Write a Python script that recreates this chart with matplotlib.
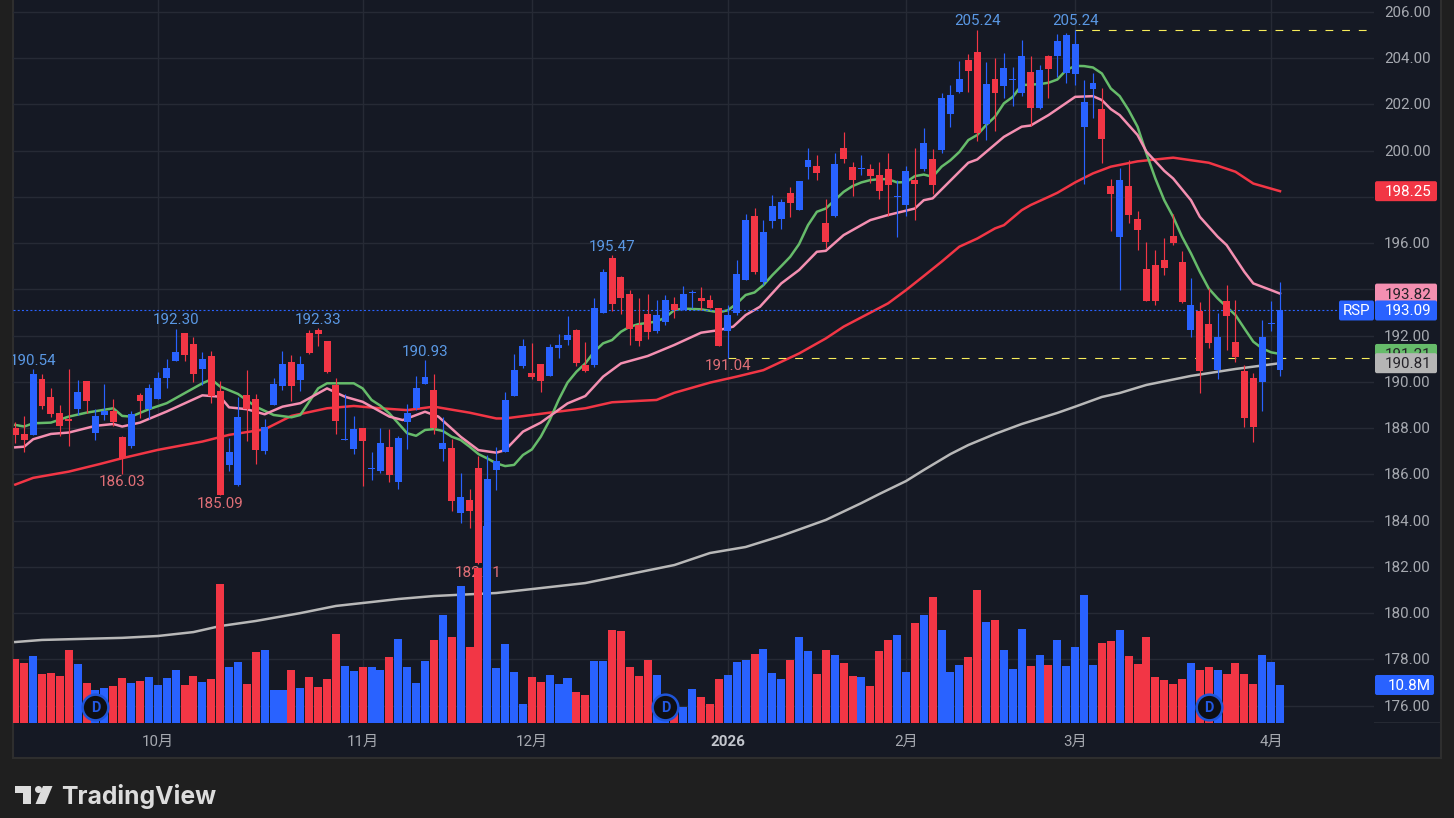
import matplotlib
matplotlib.use("Agg")
import matplotlib.pyplot as plt
from matplotlib.patches import Rectangle, FancyBboxPatch, Polygon, Circle
from matplotlib.transforms import IdentityTransform

plt.rcParams['font.family'] = ['Roboto', 'Noto Sans CJK JP', 'DejaVu Sans']

W, H = 1454, 818
RED = '#f23645'
BLUE = '#2962ff'

opens = [188.01,187.75,187.71,190.13,189.35,188.66,188.40,188.83,190.04,187.79,
         188.57,188.74,187.62,187.23,189.44,188.83,189.26,190.17,190.91,192.12,
         191.64,190.56,191.12,189.61,186.41,185.54,189.44,189.26,187.01,189.00,
         189.83,190.86,190.08,192.12,192.25,191.77,189.87,187.49,187.10,188.00,
         186.22,186.15,187.18,185.67,188.27,188.87,189.91,189.65,187.10,187.14,
         184.33,184.89,186.28,182.50,186.19,186.97,189.39,190.69,190.38,190.77,
         190.26,191.47,191.81,192.24,190.73,190.73,192.98,195.36,194.54,193.80,
         192.46,192.94,192.20,192.59,193.37,193.11,193.83,193.63,193.54,193.18,
         192.20,192.98,194.40,197.17,194.32,196.96,197.04,198.17,197.43,199.29,
         199.33,196.87,197.17,200.11,199.29,199.20,199.21,198.95,199.21,198.00,
         197.65,198.73,199.21,199.64,200.03,201.58,202.54,203.92,204.27,201.15,
         203.10,202.80,203.08,202.49,203.40,201.84,204.09,204.09,203.36,203.31,
         201.02,202.67,201.80,198.47,196.26,198.47,197.04,194.88,195.05,195.27,
         196.31,195.18,192.24,193.06,192.50,190.51,193.50,191.72,190.47,190.17,
         190.00,192.52,190.51]
highs = [188.28,188.53,190.54,190.34,189.74,189.00,190.56,190.08,190.04,188.83,
         189.91,189.26,187.66,188.74,189.52,189.91,190.43,190.99,192.30,192.12,
         191.94,191.30,191.34,190.04,187.58,189.35,190.52,189.48,188.40,190.17,
         191.34,191.17,191.12,192.25,192.33,191.77,190.17,189.48,188.52,188.00,
         186.97,188.00,187.96,187.66,189.04,190.26,190.93,190.34,188.48,187.53,
         186.06,185.37,186.79,186.83,187.18,189.56,191.21,191.86,191.68,190.77,
         191.64,192.07,192.85,192.29,191.73,193.63,194.88,195.47,194.58,193.97,
         193.63,193.80,193.54,193.76,193.67,194.15,193.97,194.10,193.76,193.18,
         193.32,195.27,197.26,197.52,197.00,198.08,197.90,198.43,198.69,200.11,
         199.81,197.91,199.90,200.81,199.51,199.81,199.42,199.51,199.90,198.73,
         199.34,200.11,200.98,200.07,202.49,202.84,203.88,204.18,205.24,203.83,
         204.00,204.22,203.62,204.78,204.09,203.70,204.14,205.04,205.09,205.24,
         203.05,203.36,202.71,198.77,199.25,199.59,197.39,196.05,195.70,196.22,
         197.26,195.66,194.49,193.45,194.06,192.98,194.19,193.54,190.73,190.38,
         192.67,193.50,194.32]
lows = [187.35,186.98,187.71,188.83,188.48,187.66,187.23,188.57,188.66,187.49,
        188.35,188.10,186.03,187.14,188.44,188.40,189.26,189.74,190.91,190.91,
        190.00,189.87,189.09,185.09,186.15,185.50,187.45,186.45,186.88,189.00,
        189.65,189.18,189.61,191.21,191.56,190.39,187.75,187.49,186.88,185.50,
        185.76,186.06,185.67,185.37,187.10,188.78,189.91,187.75,186.58,184.42,
        183.90,183.68,182.11,182.30,185.32,186.97,189.39,190.60,190.13,189.56,
        190.26,191.03,191.60,190.69,190.43,190.64,192.98,193.07,192.94,191.60,
        191.55,191.86,192.12,192.46,192.76,193.11,193.20,193.11,193.20,191.56,
        191.04,192.89,194.40,194.66,194.19,196.65,196.61,197.13,197.43,198.77,
        198.73,195.79,197.13,199.46,198.04,198.95,198.60,197.91,197.17,196.26,
        197.17,197.00,199.12,198.12,199.90,201.02,202.49,202.54,200.42,200.46,
        200.85,202.28,201.93,202.36,201.07,201.80,202.28,203.18,202.92,202.84,
        198.56,201.41,199.46,196.52,193.97,196.87,195.70,193.50,193.32,194.62,
        195.92,193.41,191.94,189.52,191.46,190.12,191.38,190.86,188.05,187.40,
        188.74,192.20,190.25]
closes = [187.71,187.49,190.34,188.96,188.61,188.10,188.31,189.57,189.18,188.53,
          188.74,188.27,186.71,188.61,189.18,189.74,190.17,190.60,191.30,191.17,
          190.34,190.99,189.39,185.11,186.97,188.48,188.83,187.06,188.05,189.91,
          190.78,189.83,190.78,191.25,192.07,190.43,188.31,187.53,187.96,187.44,
          186.26,187.36,185.97,187.57,188.65,189.74,190.21,188.01,187.36,184.85,
          185.02,184.42,182.15,185.80,186.58,189.22,190.51,191.55,190.21,190.04,
          191.51,191.60,192.03,190.82,190.47,193.20,194.75,193.37,193.63,192.29,
          191.77,192.16,192.89,193.54,193.11,193.80,193.87,193.50,193.20,191.56,
          192.89,194.66,196.99,194.75,196.48,197.60,197.78,197.73,198.69,199.59,
          199.03,196.05,199.42,199.64,198.73,199.25,198.90,198.25,198.51,198.05,
          199.12,198.56,200.33,198.51,202.28,202.41,203.10,203.44,200.76,202.88,
          202.49,203.57,203.12,204.09,201.84,203.49,203.53,204.74,205.00,204.61,
          202.10,202.92,200.50,198.12,198.73,197.22,196.57,193.50,193.50,194.92,
          196.00,193.45,193.32,190.47,191.68,191.94,192.85,191.07,188.44,188.05,
          191.94,192.55,193.09]
volumes = [18.2,17.0,19.0,13.9,14.2,13.4,20.7,16.8,11.4,9.4,9.9,10.5,12.8,11.4,11.9,
           13.1,10.8,12.8,15.1,10.8,13.4,11.6,12.5,39.5,15.9,17.3,11.1,20.2,20.7,9.4,
           9.4,15.1,9.9,13.1,10.2,12.5,25.3,16.2,14.8,15.9,15.9,15.1,18.8,23.9,15.9,
           11.4,17.6,23.6,30.7,24.4,38.9,21.6,44.0,56.0,15.6,22.4,14.5,5.4,13.1,11.6,
           13.6,11.1,12.8,8.8,8.0,17.6,17.6,26.4,26.1,15.9,13.4,17.9,13.6,7.0,4.2,
           4.5,9.7,7.4,5.4,12.5,13.6,17.3,17.9,19.6,21.0,14.2,12.5,17.9,24.4,20.5,
           13.9,20.7,19.3,17.0,13.4,13.1,10.5,20.5,23.6,25.0,14.5,28.4,30.7,35.8,26.4,
           14.5,16.5,18.8,37.8,28.7,29.3,20.7,15.3,26.7,16.2,19.3,16.5,23.6,16.2,21.6,
           36.4,16.5,22.7,23.3,26.4,19.0,16.8,24.4,13.1,12.2,11.1,12.5,17.0,15.1,15.9,
           15.1,13.9,17.0,13.9,11.1,19.3,17.3,10.8]

# moving averages, read at these candle positions
green_x = [0,1,2,4,6,8,11,12,13,15,17,19,21,22,23,25,27,29,31,32,34,35,38,39,40,41,42,43,44,45,46,47,48,49,
           50,51,52,53,54,55,56,57,58,59,60,61,62,63,64,65,66,67,68,69,70,72,73,74,75,77,79,80,81,82,83,84,85,
           86,87,88,89,90,91,92,93,94,95,96,97,98,99,100,101,102,103,104,105,106,107,108,109,110,111,112,113,
           115,116,117,118,119,120,121,122,123,124,125,126,127,128,129,130,131,132,133,134,135,136,137,138,139,
           140,141,142]
green_y = [188.14,188.07,188.21,188.24,188.50,188.67,188.86,188.53,188.50,188.82,189.08,189.51,189.94,190.11,
           189.80,189.48,188.93,188.57,188.47,188.57,189.72,189.94,189.94,189.72,189.22,188.97,188.64,188.21,
           187.78,187.67,187.92,187.96,187.88,187.63,187.49,187.20,186.88,186.69,186.48,186.36,186.41,186.84,
           187.08,187.63,188.35,189.22,189.97,190.44,190.80,191.31,191.67,191.81,192.17,192.39,192.50,192.61,
           192.79,193.11,193.17,193.14,193.01,193.10,193.39,193.76,193.87,194.19,194.62,195.01,195.41,195.96,
           196.78,197.36,197.50,197.86,198.22,198.47,198.63,198.73,198.77,198.77,198.63,198.64,198.90,198.97,
           198.87,199.31,199.59,199.95,200.46,200.68,201.11,201.47,202.05,202.33,202.84,202.88,202.94,203.08,
           203.49,203.67,203.66,203.60,203.34,202.69,202.36,201.76,201.04,199.88,198.80,197.86,197.14,196.28,
           195.56,194.76,194.04,193.61,193.25,192.89,192.31,191.74,191.45,191.28,191.21]
pink_x = [0,1,2,4,6,9,11,12,14,17,21,23,24,26,28,30,32,35,37,39,42,43.5,46,47.5,50,52,54,55,57,59,62,64,66,68,
          71,74,77,79,80.6,82,83.6,86,88,90,91,93,96,98,101,102,103,107,108,111,113,114,116,119,121,122,123,124,
          125,126,127,129,130,132,133,135,136,137,138,139,141,142]
pink_y = [187.17,187.20,187.52,187.75,187.81,188.10,188.18,188.07,188.24,188.72,189.42,189.36,188.90,188.82,
          188.60,188.93,189.08,189.72,189.36,189.14,188.50,188.35,188.71,188.50,187.63,187.05,186.94,187.05,
          187.85,188.24,189.07,189.39,190.23,190.80,191.12,191.60,192.13,192.24,192.39,192.89,193.25,194.26,
          194.84,195.63,195.67,196.35,197.00,197.22,197.50,197.86,197.94,199.48,199.62,200.60,201.04,201.09,
          201.54,202.33,202.36,202.19,201.80,201.54,201.11,200.68,199.96,199.13,198.80,197.86,197.14,196.28,
          195.92,195.34,194.76,194.26,193.97,193.82]
red_x = [0,2,6,9.5,12,16,21,24,28,31,35,38,41,44,47,51,54,55,60,64,67,72,74,78,81,84,88,91,93,98,100,102,104,106,108,
         110,111,113,114,116,117,119,121,123,126,130,134,137,139,142]
red_y = [185.56,185.85,186.12,186.45,186.70,187.06,187.42,187.71,187.95,188.53,188.86,188.96,188.86,188.78,
         188.93,188.67,188.42,188.42,188.67,188.86,189.12,189.22,189.53,189.97,190.23,190.51,191.23,191.88,
         192.39,193.40,193.97,194.58,195.20,195.85,196.20,196.64,196.78,197.43,197.65,198.00,198.18,198.63,199.02,
         199.31,199.54,199.70,199.48,199.09,198.58,198.25]
gray_x = [0,3,12,16,20,23,27,32,36,40,43,47,54,58,64,69,74,78,82,86,91,95,97,100,102,105,107,110,113,117,119,122,124,
          127,132,137,142]
gray_y = [178.75,178.84,178.93,179.01,179.18,179.44,179.66,180.00,180.31,180.48,180.61,180.74,180.87,181.04,
          181.30,181.69,182.08,182.60,182.86,183.34,184.03,184.76,185.15,185.71,186.19,186.88,187.27,187.75,
          188.18,188.66,188.93,189.35,189.52,189.87,190.26,190.56,190.81]

price_ticks = list(range(176, 208, 2))
month_pos = [16, 39, 58, 80, 100, 119, 141]
month_labels = ['10月', '11月', '12月', '2026', '2月', '3月', '4月']
high_marks = [(2, 190.54), (18, 192.30), (34, 192.33), (46, 190.93), (67, 195.47), (108, 205.24), (119, 205.24)]
low_marks = [(12, 186.03), (23, 185.09), (52, 182.11), (80, 191.04)]
dividend_pos = [9, 73, 134]
last_price = 193.09
last_volume = 10.8

fig = plt.figure(figsize=(W / 100, H / 100), dpi=100, facecolor='#1f1f1f')
ax = fig.add_axes([13 / W, (H - 723) / H, (1374 - 13) / W, 723 / H])
ax.set_facecolor('none')
step = 8.9065
ax.set_xlim((13 - 15.3) / step, (1374 - 15.3) / step)
ax.set_ylim(176 + (705.6 - 723) / 23.12, 176 + 705.6 / 23.12)
for s in ax.spines.values():
    s.set_visible(False)
ax.set_xticks([])
ax.set_yticks([])

vol_ax = ax.twinx()
vol_ax.set_facecolor('none')
vol_ax.set_ylim(0, 723 / 3.52)
vol_ax.set_yticks([])
for s in vol_ax.spines.values():
    s.set_visible(False)

px = IdentityTransform()
fig.add_artist(Rectangle((12.5, H - 757.5), 1441 - 12.5, 757.5 + 5, transform=px, facecolor='#151924',
                         edgecolor='#2e2e2e', linewidth=1.5, zorder=-5))
fig.add_artist(Rectangle((1374, H - 723), 66, 1, transform=px, facecolor='#252933', zorder=-4))

# grid
for p in price_ticks:
    ax.axhline(p, color='#262a35', linewidth=1.0, zorder=1)
for m in month_pos:
    ax.axvline(m, color='#262a35', linewidth=1.0, zorder=1)

# moving averages sit under the candles and volume
ax.plot(gray_x, gray_y, color='#b8b8b8', linewidth=1.8, zorder=2)
ax.plot(red_x, red_y, color='#f23645', linewidth=1.8, zorder=2)
ax.plot(pink_x, pink_y, color='#f48fb1', linewidth=1.8, zorder=2.1)
ax.plot(green_x, green_y, color='#66bb6a', linewidth=1.8, zorder=2.05)

ax.plot([ax.get_xlim()[0], 149.2], [last_price, last_price], color=BLUE, linewidth=0.8, linestyle=(0, (1.8, 2)),
        zorder=2.5)
ax.plot([119, ax.get_xlim()[1]], [205.24, 205.24], color='#f7ec5a', linewidth=0.8, linestyle=(0, (7, 8)), zorder=2.5)
ax.plot([80, ax.get_xlim()[1]], [191.04, 191.04], color='#f7ec5a', linewidth=0.8, linestyle=(0, (7, 8)), zorder=2.5)
ax.set_xlim((13 - 15.3) / step, (1374 - 15.3) / step)

idx = list(range(len(closes)))
colors = [BLUE if c >= o else RED for o, c in zip(opens, closes)]
ax.set_zorder(1)
vol_ax.set_zorder(2)

# text under the volume bars, as in the original
for i, v in high_marks:
    ax.annotate(f'{v:.2f}', (i, v), xytext=(0, 8.5), textcoords='offset pixels', ha='center', va='center',
                color='#5a98e4', fontsize=10.9, annotation_clip=True, clip_on=True, zorder=2.6)
for i, v in low_marks:
    ax.annotate(f'{v:.2f}', (i, v), xytext=(0, -8.5), textcoords='offset pixels', ha='center', va='center',
                color='#e06f77', fontsize=10.9, annotation_clip=True, clip_on=True, zorder=2.6)

vol_ax.bar(idx, volumes, width=0.9, color=colors, linewidth=0, zorder=3)

# candles are drawn over the volume on the top axes
candle_ax = ax.twinx()
candle_ax.set_ylim(ax.get_ylim())
candle_ax.set_facecolor('none')
candle_ax.set_yticks([])
for s in candle_ax.spines.values():
    s.set_visible(False)
candle_ax.set_zorder(3)
candle_ax.vlines(idx, lows, highs, colors=colors, linewidth=0.85, zorder=3)
candle_ax.bar(idx, [abs(c - o) for o, c in zip(opens, closes)], bottom=[min(o, c) for o, c in zip(opens, closes)],
              width=0.78, color=colors, linewidth=0, zorder=4)

# dividend markers
for i in dividend_pos:
    candle_ax.plot([i], [176 + (705.6 - 707) / 23.12], marker='o', markersize=18.5, markerfacecolor='#0e0f13',
                   markeredgecolor='#1f55d8', markeredgewidth=1.8, zorder=6, clip_on=False)
    candle_ax.text(i, 176 + (705.6 - 707.5) / 23.12, 'D', color='#2358e0', fontsize=10.5, fontweight='bold',
                   ha='center', va='center', zorder=7)

# axis labels, the ones under the price tags are hidden in the original
for p in price_ticks:
    if p in (198, 194):
        continue
    y = H - (705.6 - (p - 176) * 23.12) - 1
    fig.text(1430.5, y, f'{p:.2f}', transform=px, color='#a6a9b0', fontsize=10.9, ha='right', va='center', zorder=5)
for m, lab in zip(month_pos, month_labels):
    x = 15.3 + m * step
    if lab == '2026':
        fig.text(x, H - 741.5, lab, transform=px, color='#c3c6cd', fontsize=10.9, fontweight='bold',
                 ha='center', va='center', zorder=5)
    else:
        fig.text(x, H - 741.5, lab, transform=px, color='#a6a9b0', fontsize=10.9, ha='center', va='center', zorder=5)


def price_tag(value, color, text_color, z, x0=1375, x1=1437):
    yc = 705.6 - (value - 176) * 23.12
    fig.add_artist(FancyBboxPatch((x0, H - yc - 10), x1 - x0, 20, boxstyle='round,pad=0,rounding_size=2',
                                  transform=px, facecolor=color, edgecolor='none', zorder=z))
    fig.text(1431, H - yc - 1, f'{value:.2f}', transform=px, color=text_color, fontsize=10.9, ha='right', va='center',
             zorder=z + 0.1)


price_tag(198.25, RED, '#ffffff', 10)
price_tag(193.82, '#f48fb1', '#26242a', 11)
price_tag(191.21, '#66bb6a', '#26242a', 11)
price_tag(190.81, '#b5b5b5', '#26242a', 12)
price_tag(last_price, BLUE, '#ffffff', 13)

# symbol tag next to the last price
yc = 705.6 - (last_price - 176) * 23.12
fig.add_artist(FancyBboxPatch((1339, H - yc - 10), 35, 20, boxstyle='round,pad=0,rounding_size=2',
                              transform=px, facecolor=BLUE, edgecolor='none', zorder=13))
fig.text(1356.5, H - yc - 1, 'RSP', transform=px, color='#ffffff', fontsize=10.9, ha='center', va='center', zorder=13.1)

# volume tag
yv = 723 - last_volume * 3.52
fig.add_artist(FancyBboxPatch((1375, H - yv - 10), 59, 20, boxstyle='round,pad=0,rounding_size=2',
                              transform=px, facecolor=BLUE, edgecolor='none', zorder=13))
fig.text(1431, H - yv - 1, f'{last_volume}M', transform=px, color='#ffffff', fontsize=10.9, ha='right', va='center',
         zorder=13.1)

# TradingView logo and word mark
logo = '#dcdcdc'
fig.add_artist(Polygon([(15, H - 786), (31, H - 786), (31, H - 804), (23, H - 804), (23, H - 793), (15, H - 793)],
                       transform=px, facecolor=logo, edgecolor='none'))
fig.add_artist(Circle((38.5, H - 789.5), 3.5, transform=px, facecolor=logo, edgecolor='none'))
fig.add_artist(Polygon([(43, H - 786), (52.5, H - 786), (45, H - 804), (35.5, H - 804)],
                       transform=px, facecolor=logo, edgecolor='none'))
fig.text(61.5, H - 804, 'TradingView', transform=px, color=logo, fontsize=17.8, fontweight='bold',
         family=['Inter', 'DejaVu Sans'], ha='left', va='baseline')

fig.savefig('out.png', dpi=100, facecolor=fig.get_facecolor())
